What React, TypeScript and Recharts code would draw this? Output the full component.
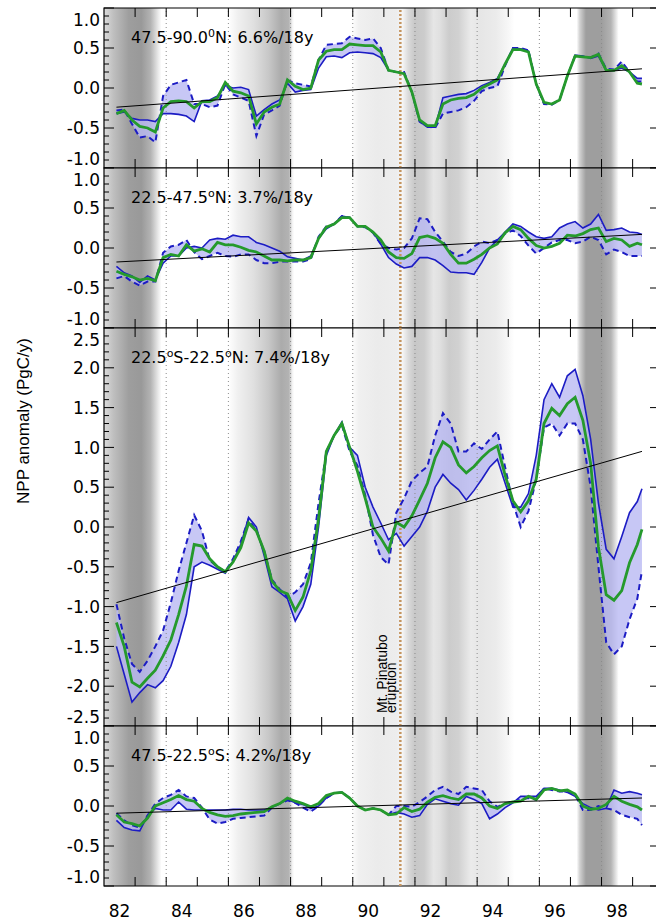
import React from 'react';
import { ComposedChart, Line, Area, XAxis, YAxis, ReferenceArea, ReferenceLine } from 'recharts';

// decimal years of the sampled points (roughly every 3 months)
const years = [
  1982.4, 1982.65, 1982.9, 1983.15, 1983.4, 1983.65, 1983.9, 1984.15, 1984.4, 1984.65,
  1984.9, 1985.15, 1985.4, 1985.65, 1985.9, 1986.15, 1986.4, 1986.65, 1986.9, 1987.15,
  1987.4, 1987.65, 1987.9, 1988.15, 1988.4, 1988.65, 1988.9, 1989.15, 1989.4, 1989.65,
  1989.9, 1990.15, 1990.4, 1990.65, 1990.9, 1991.15, 1991.4, 1991.65, 1991.9, 1992.15,
  1992.4, 1992.65, 1992.9, 1993.15, 1993.4, 1993.65, 1993.9, 1994.15, 1994.4, 1994.65,
  1994.9, 1995.15, 1995.4, 1995.65, 1995.9, 1996.15, 1996.4, 1996.65, 1996.9, 1997.15,
  1997.4, 1997.65, 1997.9, 1998.15, 1998.4, 1998.65, 1998.9, 1999.15, 1999.3,
];

// 47.5-90N
const p1Green = [
  -0.32, -0.28, -0.4, -0.48, -0.5, -0.55, -0.25, -0.17, -0.16, -0.17, -0.25, -0.17, -0.17, -0.12,
  0.07, -0.04, -0.06, -0.1, -0.45, -0.3, -0.24, -0.2, 0.1, 0.02, -0.02, 0.0, 0.35, 0.46,
  0.48, 0.48, 0.55, 0.54, 0.53, 0.53, 0.45, 0.22, 0.2, 0.18, -0.05, -0.4, -0.47, -0.47, -0.2, -0.15,
  -0.13, -0.12, -0.08, 0.0, 0.05, 0.1, 0.3, 0.48, 0.48, 0.45, 0.05, -0.18, -0.2, -0.15, 0.15, 0.4,
  0.39, 0.38, 0.42, 0.22, 0.22, 0.28, 0.2, 0.06, 0.05,
];
const p1Solid = [
  -0.32, -0.3, -0.38, -0.4, -0.4, -0.42, -0.32, -0.32, -0.33, -0.35, -0.42, -0.16, -0.15, -0.1,
  0.03, 0.0, 0.01, -0.02, -0.35, -0.27, -0.2, -0.15, 0.06, -0.05, -0.03, -0.02, 0.25, 0.39,
  0.4, 0.38, 0.44, 0.45, 0.44, 0.43, 0.38, 0.22, 0.2, 0.18, -0.05, -0.42, -0.49, -0.49, -0.12, -0.1,
  -0.08, -0.07, -0.03, 0.03, 0.07, 0.12, 0.3, 0.5, 0.49, 0.46, 0.05, -0.19, -0.2, -0.15, 0.15, 0.41,
  0.4, 0.37, 0.4, 0.22, 0.22, 0.25, 0.2, 0.12, 0.12,
];
const p1Dashed = [
  -0.28, -0.27, -0.45, -0.62, -0.6, -0.68, -0.1, 0.04, 0.07, 0.1, -0.2, -0.2, -0.24, -0.22,
  0.05, -0.08, -0.12, -0.16, -0.6, -0.33, -0.28, -0.22, 0.1, 0.06, 0.04, 0.02, 0.35, 0.54,
  0.55, 0.56, 0.64, 0.62, 0.6, 0.62, 0.5, 0.22, 0.2, 0.2, -0.05, -0.42, -0.48, -0.5, -0.32, -0.3,
  -0.28, -0.24, -0.16, -0.04, 0.0, 0.02, 0.28, 0.5, 0.5, 0.47, 0.05, -0.2, -0.21, -0.15, 0.15, 0.4,
  0.39, 0.38, 0.43, 0.24, 0.23, 0.33, 0.2, 0.08, 0.08,
];
const p1Trend = [-0.24, 0.24];

// 22.5-47.5N
const p2Green = [
  -0.29, -0.33, -0.36, -0.4, -0.38, -0.41, -0.12, -0.08, -0.1, 0.04, -0.04, -0.01, -0.05, 0.07,
  0.04, 0.04, 0.01, -0.03, -0.05, -0.1, -0.15, -0.15, -0.16, -0.15, -0.15, -0.12, 0.12, 0.26,
  0.3, 0.38, 0.38, 0.27, 0.27, 0.2, 0.1, -0.05, -0.12, -0.13, -0.07, 0.13, 0.15, 0.12, 0.06, -0.08,
  -0.19, -0.19, -0.14, -0.08, 0.0, 0.05, 0.19, 0.27, 0.23, 0.12, 0.03, 0.0, 0.02, 0.06, 0.16, 0.15,
  0.18, 0.23, 0.25, 0.08, 0.12, 0.1, 0.02, 0.06, 0.04,
];
const p2Solid = [
  -0.23, -0.31, -0.35, -0.43, -0.35, -0.4, -0.19, -0.1, -0.1, 0.0, 0.02, 0.0, 0.1, 0.12,
  0.11, 0.16, 0.14, 0.14, 0.07, 0.04, 0.0, -0.04, -0.11, -0.13, -0.15, -0.1, 0.12, 0.24,
  0.3, 0.4, 0.38, 0.27, 0.27, 0.2, 0.05, -0.12, -0.2, -0.25, -0.23, -0.12, -0.12, -0.15, -0.22, -0.3,
  -0.31, -0.31, -0.33, -0.18, 0.0, 0.1, 0.2, 0.3, 0.27, 0.2, 0.14, 0.12, 0.14, 0.25, 0.3, 0.33,
  0.25, 0.3, 0.42, 0.22, 0.23, 0.25, 0.2, 0.19, 0.17,
];
const p2Dashed = [
  -0.38, -0.35, -0.42, -0.47, -0.42, -0.42, -0.06, 0.02, 0.04, 0.1, -0.05, -0.14, -0.1, -0.06,
  -0.1, -0.11, -0.08, -0.08, -0.15, -0.19, -0.19, -0.17, -0.17, -0.17, -0.17, -0.14, 0.14, 0.27,
  0.3, 0.4, 0.38, 0.27, 0.26, 0.19, 0.05, 0.0, -0.02, 0.0, 0.12, 0.37, 0.36, 0.2, 0.08, -0.05,
  -0.1, -0.07, 0.02, 0.08, 0.06, 0.1, 0.18, 0.22, 0.15, 0.03, -0.07, 0.0, 0.07, 0.1, 0.1, 0.06,
  0.08, 0.14, 0.1, -0.08, -0.02, -0.05, -0.1, -0.1, -0.1,
];
const p2Trend = [-0.175, 0.17];

// 22.5S-22.5N
const p3Green = [
  -1.2, -1.5, -1.95, -2.01, -1.9, -1.8, -1.62, -1.42, -1.1, -0.74, -0.22, -0.24, -0.4, -0.5,
  -0.56, -0.44, -0.26, 0.05, -0.05, -0.3, -0.68, -0.8, -0.84, -1.05, -0.88, -0.55, 0.1, 0.95,
  1.15, 1.3, 1.0, 0.7, 0.36, 0.0, -0.14, -0.3, 0.06, 0.0, 0.14, 0.34, 0.55, 0.87, 1.07, 1.0,
  0.78, 0.68, 0.76, 0.87, 0.96, 1.02, 0.65, 0.33, 0.19, 0.33, 0.6, 1.3, 1.49, 1.4, 1.55, 1.63,
  1.34, 0.8, -0.25, -0.85, -0.92, -0.8, -0.45, -0.22, -0.03,
];
const p3Solid = [
  -1.5, -1.85, -2.2, -2.08, -1.98, -2.02, -1.93, -1.75, -1.45, -1.1, -0.5, -0.44, -0.48, -0.53,
  -0.58, -0.43, -0.22, 0.12, 0.0, -0.36, -0.75, -0.82, -0.9, -1.18, -1.0, -0.72, 0.0, 0.9,
  1.15, 1.32, 1.0, 0.9, 0.5, 0.25, 0.05, -0.16, -0.08, -0.24, -0.12, 0.0, 0.2, 0.5, 0.66, 0.55,
  0.47, 0.34, 0.46, 0.6, 0.75, 0.85, 0.55, 0.25, 0.25, 0.42, 0.9, 1.6, 1.8, 1.63, 1.9, 1.98,
  1.65, 1.1, 0.3, -0.28, -0.4, -0.12, 0.18, 0.32, 0.48,
];
const p3Dashed = [
  -0.97, -1.4, -1.72, -1.82, -1.68, -1.5, -1.3, -0.95, -0.55, -0.2, 0.15, -0.05, -0.42, -0.5,
  -0.56, -0.4, -0.18, 0.1, -0.05, -0.3, -0.66, -0.78, -0.88, -0.82, -0.72, -0.45, 0.3, 0.95,
  1.15, 1.28, 0.95, 0.77, 0.4, -0.1, -0.38, -0.47, 0.18, 0.36, 0.58, 0.68, 0.76, 1.15, 1.43, 1.3,
  0.95, 0.95, 1.05, 0.98, 1.1, 1.2, 0.75, 0.3, 0.0, 0.2, 0.6, 1.25, 1.3, 1.15, 1.3, 1.3,
  1.1, 0.5, -0.5, -1.45, -1.6, -1.5, -1.16, -0.9, -0.55,
];
const p3Trend = [-0.95, 0.95];

// 47.5-22.5S
const p4Green = [
  -0.11, -0.2, -0.22, -0.25, -0.15, 0.0, 0.04, 0.08, 0.13, 0.08, 0.06, -0.03, -0.08, -0.11,
  -0.13, -0.12, -0.1, -0.09, -0.08, -0.07, -0.01, 0.03, 0.1, 0.06, 0.03, -0.01, 0.03, 0.13,
  0.16, 0.17, 0.1, 0.0, -0.05, -0.03, -0.05, -0.11, -0.1, -0.02, -0.07, -0.04, 0.05, 0.11, 0.13, 0.1,
  0.08, 0.15, 0.15, 0.1, 0.0, -0.03, 0.03, 0.05, 0.06, 0.12, 0.08, 0.2, 0.22, 0.19, 0.2, 0.15,
  0.0, -0.04, -0.03, 0.02, 0.12, 0.06, 0.02, -0.01, -0.05,
];
const p4Solid = [
  -0.18, -0.27, -0.3, -0.31, -0.12, -0.03, -0.05, -0.05, 0.05, -0.04, -0.05, -0.05, -0.05, -0.05,
  -0.05, -0.04, -0.04, -0.05, -0.05, -0.05, -0.02, 0.03, 0.08, 0.04, 0.02, -0.03, 0.0, 0.1,
  0.16, 0.17, 0.1, 0.0, -0.05, -0.03, -0.05, -0.11, -0.08, -0.1, -0.14, -0.12, 0.02, 0.09, 0.06, 0.03,
  0.01, 0.12, 0.08, 0.03, -0.16, -0.1, -0.02, 0.04, 0.12, 0.12, 0.12, 0.22, 0.22, 0.2, 0.17, 0.12,
  0.03, -0.02, -0.05, -0.03, 0.2, 0.16, 0.18, 0.16, 0.14,
];
const p4Dashed = [
  -0.09, -0.18, -0.24, -0.27, -0.12, 0.03, 0.1, 0.14, 0.2, 0.12, 0.1, -0.02, -0.17, -0.22,
  -0.2, -0.16, -0.15, -0.14, -0.13, -0.12, -0.02, 0.03, 0.07, 0.04, -0.02, -0.07, 0.0, 0.1,
  0.16, 0.17, 0.1, 0.0, -0.05, -0.03, -0.05, -0.11, 0.0, 0.0, -0.01, 0.05, 0.12, 0.2, 0.24, 0.18,
  0.15, 0.24, 0.22, 0.2, 0.06, -0.01, 0.03, 0.05, 0.08, 0.1, 0.08, 0.22, 0.2, 0.18, 0.18, 0.14,
  -0.05, -0.05, 0.0, -0.03, -0.05, -0.11, -0.14, -0.16, -0.24,
];
const p4Trend = [-0.09, 0.1];

// ENSO shading: [year, darkness 0..1]
const ensoShading: [number, number][] = [
  [1982.0, 0.14], [1982.3, 0.25], [1982.8, 0.38], [1983.2, 0.4], [1983.5, 0.3], [1983.75, 0.08], [1983.85, 0],
  [1986.0, 0], [1986.3, 0.06], [1986.8, 0.12], [1987.3, 0.22], [1987.7, 0.33], [1987.95, 0.3], [1988.05, 0.05], [1988.12, 0],
  [1989.95, 0], [1990.2, 0.06], [1990.8, 0.08], [1991.4, 0.07], [1991.6, 0.04], [1991.8, 0.15], [1992.0, 0.22],
  [1992.3, 0.2], [1992.6, 0.1], [1992.8, 0.12], [1993.1, 0.2], [1993.4, 0.18], [1993.8, 0.08], [1994.1, 0.1],
  [1994.6, 0.08], [1995.0, 0.03], [1995.2, 0],
  [1997.2, 0], [1997.3, 0.18], [1997.5, 0.38], [1998.0, 0.38], [1998.3, 0.3], [1998.45, 0.12], [1998.55, 0], [1999.88, 0],
];

const dottedYears = [1984, 1986, 1988, 1990, 1992, 1994, 1996, 1998];
const pinatuboYear = 1991.53;
const tickYears = [1983, 1984, 1985, 1986, 1987, 1988, 1989, 1990, 1991, 1992, 1993, 1994, 1995, 1996, 1997, 1998, 1999];
const labelYears = [1982.5, 1984.5, 1986.5, 1988.5, 1990.5, 1992.5, 1994.5, 1996.5, 1998.5];
const yearLabels = ['82', '84', '86', '88', '90', '92', '94', '96', '98'];

const titles = [
  ['47.5-90.0', '0', 'N: 6.6%/18y'],
  ['22.5-47.5', 'o', 'N: 3.7%/18y'],
  ['22.5', 'o', 'S-22.5', 'o', 'N: 7.4%/18y'],
  ['47.5-22.5', 'o', 'S: 4.2%/18y'],
];

const X_MIN = 1982;
const X_MAX = 1999.88;
const CHART_W = 700;
const MARGIN_L = 44;
const MARGIN_R = 40;
const Y_AXIS_W = 60;
const PLOT_W = CHART_W - MARGIN_L - Y_AXIS_W - MARGIN_R;
const PAD = 20;
const TICK_FONT = 'DejaVu Sans';

const panels = [
  { green: p1Green, solid: p1Solid, dashed: p1Dashed, trend: p1Trend, yMin: -1, yMax: 1, top: 8, height: 160 },
  { green: p2Green, solid: p2Solid, dashed: p2Dashed, trend: p2Trend, yMin: -1, yMax: 1, top: 168, height: 160 },
  { green: p3Green, solid: p3Solid, dashed: p3Dashed, trend: p3Trend, yMin: -2.5, yMax: 2.5, top: 328, height: 398 },
  { green: p4Green, solid: p4Solid, dashed: p4Dashed, trend: p4Trend, yMin: -1, yMax: 1, top: 726, height: 160 },
];

const shade = (d: number) => {
  const g = Math.round(255 * (1 - d));
  return `rgb(${g},${g},${g})`;
};

function PinatuboLabel(props: any) {
  const vb = props.viewBox || {};
  const x = vb.x;
  const y = (vb.y || 0) + (vb.height || 0) - 13;
  return (
    <g fontFamily="Liberation Sans" fontSize={14} fill="#000">
      <text x={x - 13} y={y} transform={`rotate(-90 ${x - 13} ${y})`}>Mt. Pinatubo</text>
      <text x={x - 4} y={y} transform={`rotate(-90 ${x - 4} ${y})`}>eruption</text>
    </g>
  );
}

function PanelTitle({ viewBox, parts }: { viewBox?: any; parts: string[] }) {
  const vb = viewBox || { x: 0, y: 0 };
  return (
    <text x={vb.x + 27} y={vb.y + 35} fontFamily={TICK_FONT} fontSize={16} fill="#000">
      {parts.map((s, j) =>
        j % 2 === 1 ? (
          <tspan key={j} dy={-6} fontSize={11}>{s}</tspan>
        ) : (
          <tspan key={j} dy={j ? 6 : 0}>{s}</tspan>
        )
      )}
    </text>
  );
}

function Panel({ idx }: { idx: number }) {
  const p = panels[idx];
  const isLast = idx === panels.length - 1;
  const bottomPad = isLast ? 40 : PAD;
  const chartH = PAD + p.height + bottomPad;
  const last = years.length - 1;
  const rows = years.map((year, k) => ({
    year,
    green: p.green[k],
    solid: p.solid[k],
    dashed: p.dashed[k],
    band: [p.solid[k], p.dashed[k]],
    trend: k === 0 ? p.trend[0] : k === last ? p.trend[1] : null,
  }));

  const yTicks: number[] = [];
  for (let v = Math.round(p.yMin * 10); v <= Math.round(p.yMax * 10); v++) yTicks.push(v / 10);
  const xTicks = [...tickYears, ...labelYears].sort((a, b) => a - b);
  const gradId = `enso${idx}`;
  const span = X_MAX - X_MIN;

  const renderYTick = (t: any) => {
    const v = Math.round(t.payload.value * 10) / 10;
    const major = Math.abs(v * 2 - Math.round(v * 2)) < 1e-6;
    let dy = 0;
    if (Math.abs(v - p.yMax) < 1e-6) dy = 12;
    else if (Math.abs(v - p.yMin) < 1e-6) dy = -9;
    return (
      <g>
        <line x1={t.x} x2={t.x + (major ? 10 : 5)} y1={t.y} y2={t.y} stroke="#000" strokeWidth={1} />
        {major && <line x1={t.x + PLOT_W - 10} x2={t.x + PLOT_W} y1={t.y} y2={t.y} stroke="#000" strokeWidth={1} />}
        {major && (
          <text x={t.x - 4} y={t.y + dy} dy="0.36em" textAnchor="end" fontFamily={TICK_FONT} fontSize={17} fill="#000">
            {v.toFixed(1)}
          </text>
        )}
      </g>
    );
  };

  const renderXTick = (t: any) => {
    const v = t.payload.value;
    if (Number.isInteger(v)) {
      return (
        <g>
          <line x1={t.x} x2={t.x} y1={t.y} y2={t.y - 9} stroke="#000" strokeWidth={1} />
          <line x1={t.x} x2={t.x} y1={t.y - p.height} y2={t.y - p.height + 9} stroke="#000" strokeWidth={1} />
        </g>
      );
    }
    if (!isLast) return <g />;
    const i = labelYears.indexOf(v);
    return (
      <text x={t.x} y={t.y + 31} textAnchor="middle" fontFamily={TICK_FONT} fontSize={17} fill="#000">
        {yearLabels[i]}
      </text>
    );
  };

  const title = titles[idx];

  return (
    <div style={{ position: 'absolute', left: 0, top: p.top - PAD }}>
      <ComposedChart
        width={CHART_W}
        height={chartH}
        data={rows}
        margin={{ top: PAD, right: MARGIN_R, bottom: 0, left: MARGIN_L }}
      >
        <defs>
          <linearGradient id={gradId} x1="0" x2="1" y1="0" y2="0">
            {ensoShading.map(([yr, d], j) => (
              <stop key={j} offset={(yr - X_MIN) / span} stopColor={shade(d)} />
            ))}
          </linearGradient>
        </defs>
        <XAxis
          dataKey="year"
          type="number"
          domain={[X_MIN, X_MAX]}
          allowDataOverflow
          ticks={xTicks}
          interval={0}
          tick={renderXTick}
          tickLine={false}
          axisLine={false}
          tickSize={0}
          tickMargin={0}
          height={bottomPad}
        />
        <YAxis
          type="number"
          domain={[p.yMin, p.yMax]}
          allowDataOverflow
          ticks={yTicks}
          interval={0}
          tick={renderYTick}
          tickLine={false}
          axisLine={false}
          tickSize={0}
          tickMargin={0}
          width={Y_AXIS_W}
        />
        <ReferenceArea x1={X_MIN} x2={X_MAX} y1={p.yMin} y2={p.yMax} fill={`url(#${gradId})`} fillOpacity={1} stroke="none" />
        {dottedYears.map((yr) => (
          <ReferenceLine key={yr} x={yr} stroke="#8c8c8c" strokeWidth={1} strokeDasharray="1 3" />
        ))}
        <ReferenceLine
          x={pinatuboYear}
          stroke="#c4945e"
          strokeWidth={2.5}
          strokeDasharray="2 2"
          label={idx === 2 ? (lp: any) => <PinatuboLabel {...lp} /> : undefined}
        />
        <Area dataKey="band" stroke="none" fill="#b9b9f2" fillOpacity={0.8} isAnimationActive={false} />
        <Line dataKey="solid" stroke="#1c1cc4" strokeWidth={1.6} dot={false} isAnimationActive={false} />
        <Line dataKey="dashed" stroke="#1c1cc4" strokeWidth={2} strokeDasharray="6 4" dot={false} isAnimationActive={false} />
        <Line dataKey="green" stroke="#259a2c" strokeWidth={2.8} dot={false} isAnimationActive={false} />
        <Line dataKey="trend" stroke="#000" strokeWidth={1} dot={false} connectNulls isAnimationActive={false} />
        <ReferenceArea
          x1={X_MIN}
          x2={X_MAX}
          y1={p.yMin}
          y2={p.yMax}
          fill="none"
          fillOpacity={0}
          stroke="#000"
          strokeWidth={1.2}
          label={(lp: any) => <PanelTitle viewBox={lp.viewBox} parts={title} />}
        />
        {idx === 2 && (
          <text
            x={29}
            y={113}
            transform="rotate(-90 29 113)"
            textAnchor="middle"
            fontFamily="Liberation Sans"
            fontSize={17}
            fill="#000"
          >
            NPP anomaly (PgC/y)
          </text>
        )}
      </ComposedChart>
    </div>
  );
}

export default function App() {
  return (
    <div
      style={{
        position: 'absolute',
        left: 0,
        top: 0,
        width: 656,
        height: 922,
        overflow: 'hidden',
        background: '#fff',
      }}
    >
      {panels.map((_, i) => (
        <Panel key={i} idx={i} />
      ))}
    </div>
  );
}
